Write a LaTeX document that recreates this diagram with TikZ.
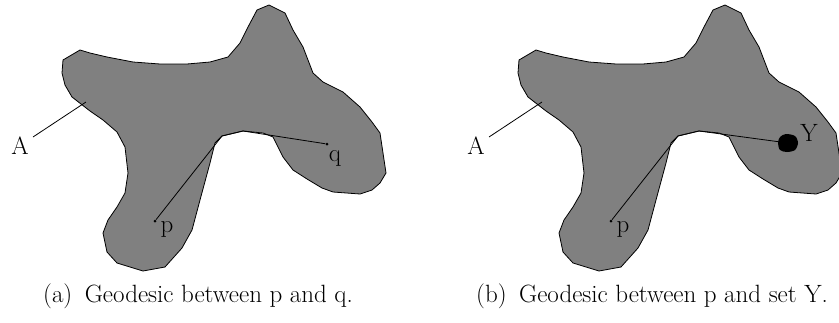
\documentclass[tikz,border=0pt]{standalone}
\begin{document}
\begin{tikzpicture}[x=1pt,y=-1pt,
  region/.style={fill={rgb,255:red,128;green,128;blue,128},draw=black,line width=0.8pt,line join=round},
  geo/.style={draw=black,line width=0.8pt},
  lbl/.style={anchor=base,inner sep=0pt,font=\fontsize{25}{30}\selectfont},
  captext/.style={anchor=base,inner sep=0pt,font=\fontsize{25}{30}\selectfont},
  dotpt/.style={circle,fill=black,inner sep=0pt,minimum size=3pt}]
\useasboundingbox (0,0) rectangle (839,322);
\clip (0,0) rectangle (839,322);
\newcommand\blobpath{(63,60) -- (80,50) -- (90,53) -- (107,57) -- (133,62) -- (160,64) -- (187,64) -- (210,62) -- (228,57) -- (240,43) -- (248,27) -- (257,10) -- (269,5) -- (285,13) -- (293,30) -- (303,47) -- (313,73) -- (323,82) -- (343,92) -- (360,107) -- (372,122) -- (380,133) -- (383,153) -- (386,173) -- (380,183) -- (372,190) -- (360,194) -- (333,192) -- (322,188) -- (307,179) -- (293,170) -- (283,157) -- (273,137) -- (263,133) -- (243,131) -- (222,136) -- (215,143) -- (210,163) -- (200,200) -- (192,230) -- (182,248) -- (165,267) -- (143,271) -- (117,263) -- (107,252) -- (103,233) -- (108,220) -- (117,207) -- (125,193) -- (128,173) -- (125,147) -- (117,132) -- (103,120) -- (90,111) -- (72,97) -- (65,85) -- (62,73) -- cycle}
% (a)
\path[region] \blobpath;
\coordinate (aAin) at (86,102);
\node[lbl] (aA) at (20,154) {A};
\draw[geo] (33,137) -- (aAin);
\node[dotpt] (ap) at (155,221) {};
\node[dotpt] (aq) at (327,144) {};
\coordinate (ac1) at (222,136);
\coordinate (ac2) at (243,131);
\draw[geo] (ap) -- (ac1) -- (ac2) -- (aq);
\node[lbl] (aplbl) at (167,232) {p};
\node[lbl] (aqlbl) at (335,161) {q};
\node[captext] (capa) at (198,302) {(a)\hspace{0.5em}Geodesic between p and q.};
% (b)
\begin{scope}[xshift=456pt]
\path[region] \blobpath;
\coordinate (bAin) at (86,102);
\node[lbl] (bA) at (20,154) {A};
\draw[geo] (33,137) -- (bAin);
\node[dotpt] (bp) at (155,221) {};
\coordinate (bc1) at (222,136);
\coordinate (bc2) at (243,131);
\coordinate (bY) at (332,143);
\fill[black] plot[smooth cycle] coordinates {(324,137) (330,134) (339,136) (342,143) (339,150) (331,152) (324,150) (322,143)};
\draw[geo] (bp) -- (bc1) -- (bc2) -- (bY);
\node[lbl] (bplbl) at (167,232) {p};
\node[lbl] (bYlbl) at (353,141) {Y};
\end{scope}
\node[captext] (capb) at (652,302) {(b)\hspace{0.5em}Geodesic between p and set Y.};
\end{tikzpicture}
\end{document}
